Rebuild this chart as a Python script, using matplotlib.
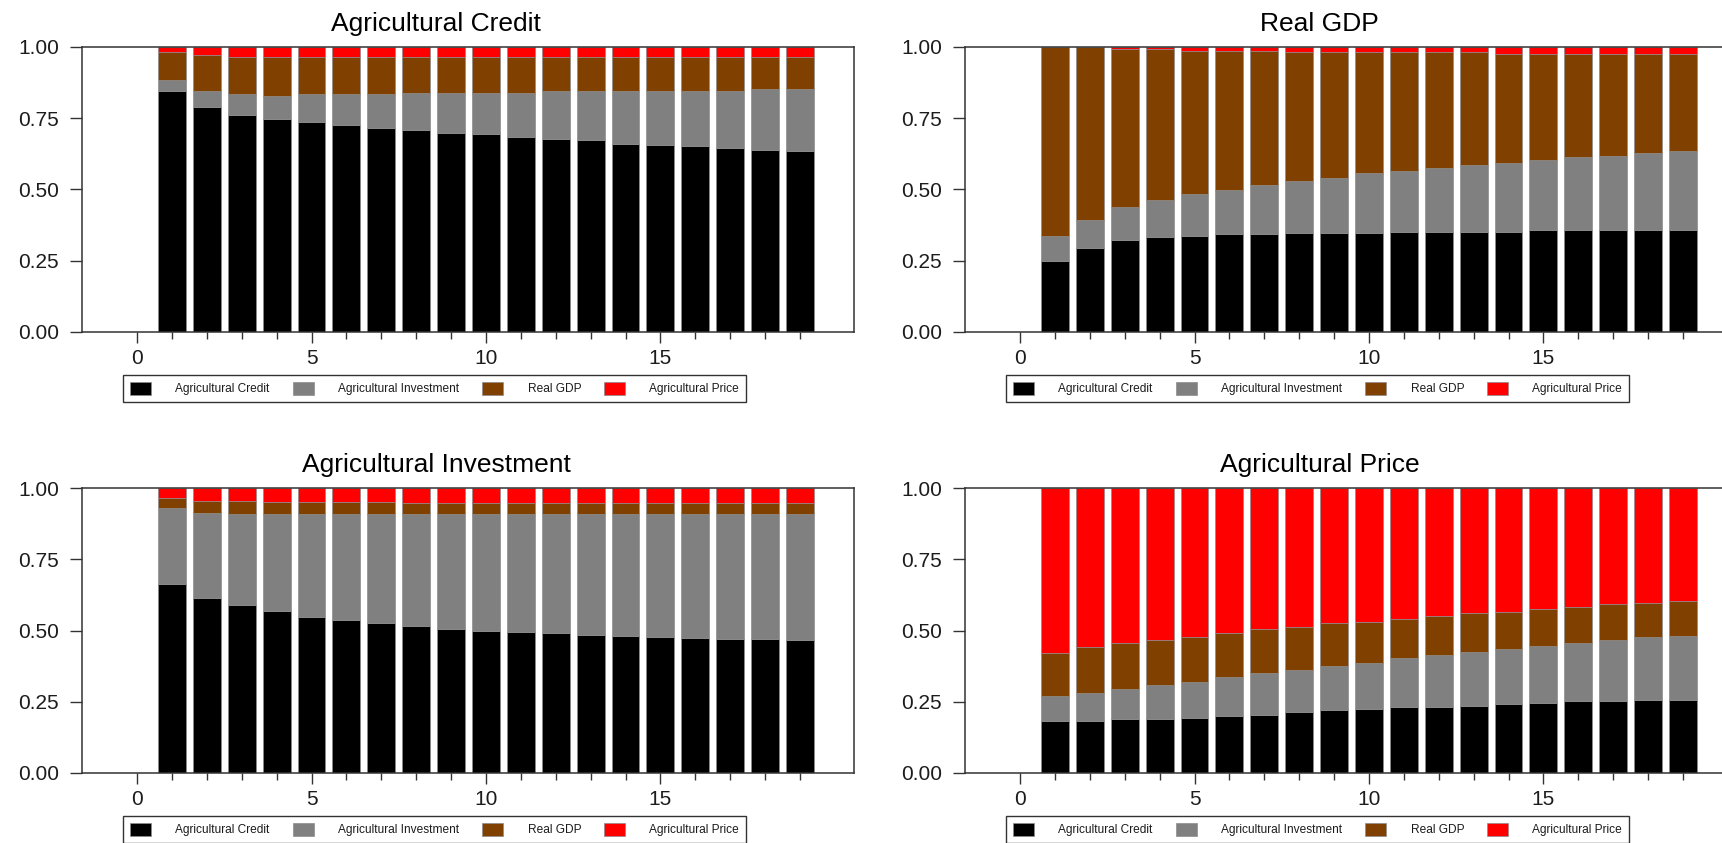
import numpy as np
import matplotlib
import matplotlib.pyplot as plt
from matplotlib.patches import Patch

matplotlib.use("Agg")

plt.rcParams["font.family"] = ["Liberation Sans", "DejaVu Sans"]

# ── variance decomposition shares, periods 1..19 ──
PERIODS = np.arange(1, 20)
VARIABLES = ["Agricultural Credit", "Agricultural Investment", "Real GDP", "Agricultural Price"]
COLORS = ["#000000", "#808080", "#804000", "#FF0000"]

# Agricultural Credit
credit_credit = [0.847, 0.789, 0.762, 0.746, 0.736, 0.725, 0.715, 0.709, 0.699, 0.693,
                 0.683, 0.678, 0.672, 0.661, 0.657, 0.651, 0.646, 0.640, 0.636]
credit_invest = [0.036, 0.057, 0.073, 0.083, 0.099, 0.110, 0.120, 0.131, 0.141, 0.147,
                 0.157, 0.168, 0.174, 0.185, 0.189, 0.195, 0.200, 0.212, 0.216]
credit_gdp = [0.099, 0.126, 0.130, 0.136, 0.130, 0.130, 0.130, 0.125, 0.125, 0.125,
              0.125, 0.119, 0.119, 0.119, 0.119, 0.119, 0.119, 0.113, 0.113]
credit_price = [0.018, 0.028, 0.035, 0.035, 0.035, 0.035, 0.035, 0.035, 0.035, 0.035,
                0.035, 0.035, 0.035, 0.035, 0.035, 0.035, 0.035, 0.035, 0.035]

# Real GDP
gdp_credit = [0.249, 0.295, 0.322, 0.332, 0.337, 0.343, 0.343, 0.347, 0.347, 0.347,
              0.352, 0.352, 0.352, 0.352, 0.357, 0.357, 0.357, 0.357, 0.357]
gdp_invest = [0.088, 0.099, 0.115, 0.130, 0.147, 0.156, 0.172, 0.184, 0.195, 0.210,
              0.214, 0.225, 0.235, 0.240, 0.247, 0.257, 0.262, 0.272, 0.278]
gdp_gdp = [0.663, 0.605, 0.556, 0.531, 0.503, 0.488, 0.472, 0.451, 0.440, 0.425,
           0.416, 0.405, 0.395, 0.385, 0.373, 0.363, 0.358, 0.348, 0.342]
gdp_price = [0.000, 0.001, 0.007, 0.007, 0.013, 0.013, 0.013, 0.018, 0.018, 0.018,
             0.018, 0.018, 0.018, 0.023, 0.023, 0.023, 0.023, 0.023, 0.023]

# Agricultural Investment
invest_credit = [0.662, 0.614, 0.588, 0.567, 0.546, 0.536, 0.525, 0.515, 0.504, 0.498,
                 0.494, 0.490, 0.485, 0.481, 0.477, 0.475, 0.471, 0.469, 0.466]
invest_invest = [0.267, 0.299, 0.320, 0.341, 0.362, 0.372, 0.383, 0.393, 0.404, 0.410,
                 0.414, 0.418, 0.423, 0.427, 0.431, 0.433, 0.437, 0.439, 0.442]
invest_gdp = [0.037, 0.041, 0.046, 0.042, 0.042, 0.042, 0.042, 0.040, 0.040, 0.040,
              0.040, 0.040, 0.040, 0.040, 0.040, 0.040, 0.040, 0.040, 0.040]
invest_price = [0.034, 0.046, 0.046, 0.050, 0.050, 0.050, 0.050, 0.052, 0.052, 0.052,
                0.052, 0.052, 0.052, 0.052, 0.052, 0.052, 0.052, 0.052, 0.052]

# Agricultural Price
price_credit = [0.182, 0.182, 0.188, 0.188, 0.194, 0.199, 0.205, 0.214, 0.220, 0.225,
                0.230, 0.230, 0.236, 0.241, 0.246, 0.251, 0.251, 0.256, 0.256]
price_invest = [0.089, 0.100, 0.106, 0.121, 0.125, 0.137, 0.146, 0.147, 0.157, 0.162,
                0.174, 0.184, 0.189, 0.194, 0.200, 0.205, 0.216, 0.221, 0.226]
price_gdp = [0.149, 0.159, 0.162, 0.158, 0.158, 0.156, 0.153, 0.152, 0.148, 0.143,
             0.135, 0.137, 0.135, 0.131, 0.129, 0.125, 0.125, 0.121, 0.120]
price_price = [0.580, 0.559, 0.544, 0.533, 0.523, 0.508, 0.496, 0.487, 0.475, 0.470,
               0.461, 0.449, 0.440, 0.434, 0.425, 0.419, 0.408, 0.402, 0.398]

PANELS = [
    ("Agricultural Credit", [credit_credit, credit_invest, credit_gdp, credit_price]),
    ("Real GDP", [gdp_credit, gdp_invest, gdp_gdp, gdp_price]),
    ("Agricultural Investment", [invest_credit, invest_invest, invest_gdp, invest_price]),
    ("Agricultural Price", [price_credit, price_invest, price_gdp, price_price]),
]

W, H = 1722, 843
# axes rectangles in pixels: left, top
AX_PIX = [(82, 47), (965, 47), (82, 488), (965, 488)]
AX_W, AX_H = 772, 285

fig = plt.figure(figsize=(W / 100, H / 100), dpi=100)

for (title, shares), (px, py) in zip(PANELS, AX_PIX):
    ax = fig.add_axes([px / W, (H - py - AX_H) / H, AX_W / W, AX_H / H])
    bottom = np.zeros(len(PERIODS))
    for vals, col in zip(shares, COLORS):
        vals = np.asarray(vals)
        ax.bar(PERIODS, vals, width=0.8, bottom=bottom, color=col,
               edgecolor="#8c8c8c", linewidth=0.5)
        bottom += vals

    ax.set_xlim(-1.58, 20.55)
    ax.set_ylim(0, 1)
    ax.set_yticks([0, 0.25, 0.5, 0.75, 1.0])
    ax.set_yticklabels(["0.00", "0.25", "0.50", "0.75", "1.00"])
    ax.set_xticks([0, 5, 10, 15])
    ax.set_xticks([p for p in PERIODS if p % 5], minor=True)

    ax.tick_params(axis="y", length=8.6, width=1.0, pad=8, labelsize=15,
                   color="#333333", labelcolor="#1c1c1c")
    ax.tick_params(axis="x", which="major", length=8, width=1.0, pad=4,
                   labelsize=15, color="#333333", labelcolor="#1c1c1c")
    ax.tick_params(axis="x", which="minor", length=4.8, width=1.0, color="#333333")
    for sp in ax.spines.values():
        sp.set_color("#333333")
        sp.set_linewidth(1.1)

    ax.text(0.459, 1.055, title, transform=ax.transAxes, ha="center", va="baseline",
            fontsize=19, color="black")

    handles = [Patch(facecolor=c, edgecolor="#8c8c8c", linewidth=0.5) for c in COLORS]
    leg = ax.legend(handles, VARIABLES, loc="center", bbox_to_anchor=(0.4567, -0.199),
                    ncol=4, fontsize=8.6, frameon=True, fancybox=False,
                    handlelength=1.76, handleheight=1.26, handletextpad=2.05,
                    columnspacing=1.91, borderpad=0.59)
    leg.get_frame().set_edgecolor("black")
    leg.get_frame().set_linewidth(1.0)
    for t in leg.get_texts():
        t.set_color("#1c1c1c")

fig.savefig("out.png", dpi=100)
